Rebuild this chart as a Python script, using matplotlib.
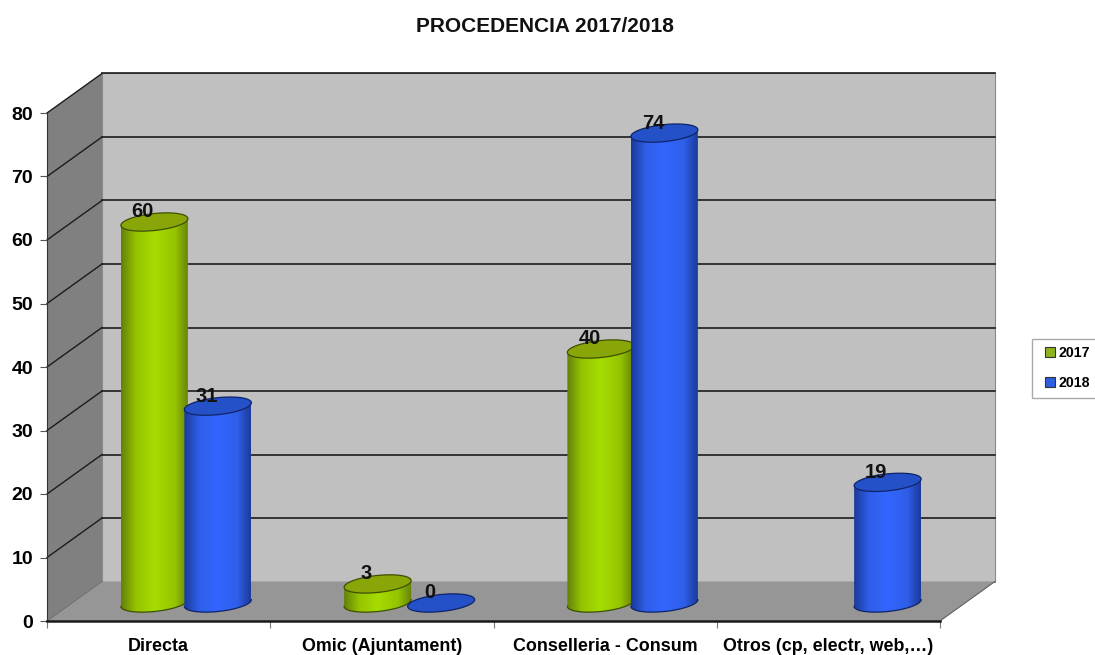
import matplotlib
matplotlib.use('Agg')
import matplotlib.pyplot as plt
import numpy as np
from matplotlib.colors import LinearSegmentedColormap
from matplotlib.patches import Patch, Polygon, Rectangle

plt.rcParams['font.family'] = ['Liberation Sans', 'DejaVu Sans']
plt.rcParams['font.weight'] = 'bold'

# Datos
categorias = ['Directa', 'Omic (Ajuntament)', 'Conselleria - Consum', 'Otros (cp, electr, web,…)']
valores_2017 = [60, 3, 40, None]
valores_2018 = [31, 0, 74, 19]
ticks_y = [0, 10, 20, 30, 40, 50, 60, 70, 80]

# Escala en pixeles del plano frontal
PX_CAT = 893 / 4
PX_VAL = 508 / 80
FONDO_X = 55 / PX_CAT
FONDO_Y = 39.5 / PX_VAL

fig = plt.figure(figsize=(10.95, 6.55), dpi=100)
ax = fig.add_axes([47 / 1095, 34 / 655, 893 / 1095, 508 / 655])
ax.set_xlim(0, 4)
ax.set_ylim(0, 80)
ax.patch.set_visible(False)

# Paredes y suelo
ax.add_patch(Polygon([(FONDO_X, FONDO_Y), (4 + FONDO_X, FONDO_Y), (4 + FONDO_X, 80 + FONDO_Y), (FONDO_X, 80 + FONDO_Y)],
                     fc='#c0c0c0', ec='#8a8a8a', lw=0.8, zorder=1, clip_on=False))
ax.add_patch(Polygon([(0, 0), (FONDO_X, FONDO_Y), (FONDO_X, 80 + FONDO_Y), (0, 80)],
                     fc='#808080', ec='none', zorder=1, clip_on=False))
ax.add_patch(Polygon([(0, 0), (4, 0), (4 + FONDO_X, FONDO_Y), (FONDO_X, FONDO_Y)],
                     fc='#969696', ec='none', zorder=1, clip_on=False))
ax.plot([4, 4 + FONDO_X], [0, FONDO_Y], color='#555555', lw=0.7, zorder=1.5, clip_on=False)

# Lineas de la cuadricula
for v in ticks_y:
    color = '#1c1c1c' if v > 0 else '#666666'
    ax.plot([0, FONDO_X], [v, v + FONDO_Y], color=color, lw=1.0 if v > 0 else 0.6, zorder=1.5, clip_on=False)
    if v > 0:
        ax.plot([FONDO_X, 4 + FONDO_X], [v + FONDO_Y, v + FONDO_Y], color=color, lw=1.2, zorder=1.5, clip_on=False)


def cilindro(cx_px, valor, c_borde, c_medio, c_luz, c_tapa, c_linea, z):
    # cx_px es el desplazamiento en pixeles respecto al inicio del eje
    a = 33.5
    b = 8.5
    inclinacion = 0.1
    base = 18 / PX_VAL
    t = np.linspace(np.pi, 2 * np.pi, 60)
    x_arco = (cx_px + a * np.cos(t)) / PX_CAT
    y_arco = (b * np.sin(t) + inclinacion * a * np.cos(t)) / PX_VAL
    y_tope = valor + base

    if valor > 0:
        xs = np.concatenate([x_arco, x_arco[::-1]])
        ys = np.concatenate([y_arco + base, y_arco[::-1] + y_tope])
        cuerpo = Polygon(np.column_stack([xs, ys]), fc='none', ec='none', zorder=z + 0.2, clip_on=False)
        ax.add_patch(cuerpo)
        cmap = LinearSegmentedColormap.from_list(
            'c', [(0, c_borde), (0.22, c_medio), (0.5, c_luz), (0.8, c_medio), (1, c_borde)], N=128)
        x0, x1 = x_arco.min(), x_arco.max()
        gradiente = np.linspace(0, 1, 128).reshape(1, -1)
        im = ax.imshow(gradiente, cmap=cmap, aspect='auto', extent=[x0, x1, ys.min(), ys.max()], zorder=z, clip_on=True,
                       interpolation='bilinear')
        im.set_clip_path(cuerpo)
        ax.plot(x_arco, y_arco + base, color=c_linea, lw=0.9, zorder=z + 0.2, clip_on=False)

    t2 = np.linspace(0, 2 * np.pi, 120)
    x_tapa = (cx_px + a * np.cos(t2)) / PX_CAT
    y_tapa = y_tope + (b * np.sin(t2) + inclinacion * a * np.cos(t2)) / PX_VAL
    ax.add_patch(Polygon(np.column_stack([x_tapa, y_tapa]), fc=c_tapa, ec=c_linea, lw=0.9, zorder=z + 0.3, clip_on=False))
    ax.text((cx_px - 11.5) / PX_CAT, y_tope + 10 / PX_VAL, str(valor), ha='center', va='center',
            fontsize=14.5, color='#111111', zorder=20, clip_on=False)


# Cilindros
for i in range(len(categorias)):
    centro = (i + 0.5) * PX_CAT + 27.5
    if valores_2017[i] is not None:
        cilindro(centro - 31.75, valores_2017[i], '#64800a', '#95c400', '#a6dc00', '#88a608', '#3e4f00', 3 + i)
    if valores_2018[i] is not None:
        cilindro(centro + 31.75, valores_2018[i], '#1b3a9a', '#2f5ee8', '#3366ff', '#2450c8', '#0f2468', 3.5 + i)

ax.set_xlim(0, 4)
ax.set_ylim(0, 80)

# Ejes
for lado in ['top', 'right']:
    ax.spines[lado].set_visible(False)
ax.spines['left'].set_color('#333333')
ax.spines['left'].set_linewidth(0.8)
ax.spines['bottom'].set_color('#1a1a1a')
ax.spines['bottom'].set_linewidth(1.8)
ax.set_yticks(ticks_y)
ax.tick_params(axis='y', length=5, width=0.8, color='#555555', labelsize=14, pad=5)
ax.set_xticks([0, 1, 2, 3, 4])
ax.set_xticklabels([])
ax.tick_params(axis='x', which='major', length=5, width=0.8, color='#777777')
ax.set_xticks([0.5, 1.5, 2.5, 3.5], minor=True)
ax.set_xticklabels(categorias, minor=True, fontsize=12.9)
ax.tick_params(axis='x', which='minor', length=0, pad=12.5)

# Titulo
fig.text(545 / 1095, 1 - 26 / 655, 'PROCEDENCIA 2017/2018', ha='center', va='center', fontsize=15, color='#111111')

# Leyenda
fig.add_artist(Rectangle((1032 / 1095, 1 - 398 / 655), 70 / 1095, 59 / 655, transform=fig.transFigure,
                         fc='white', ec='#aaaaaa', lw=1))
fig.legend(handles=[Patch(fc='#8fb31c', ec='#333333', lw=0.8, label='2017'),
                    Patch(fc='#2f5fe0', ec='#333333', lw=0.8, label='2018')],
           loc='upper left', bbox_to_anchor=(1044.5 / 1095, 1 - 346 / 655), borderaxespad=0,
           fontsize=10.2, handlelength=0.75, handleheight=0.75, handletextpad=0.25,
           labelspacing=1.13, borderpad=0, frameon=False)

fig.savefig('out.png', dpi=100)
